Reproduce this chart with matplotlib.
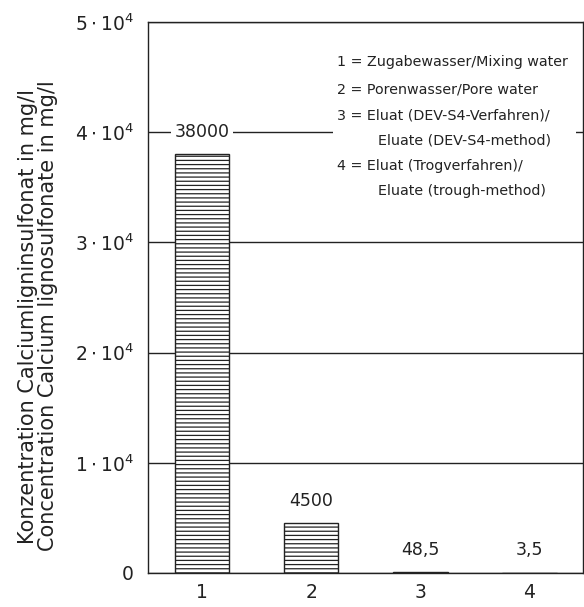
import matplotlib.pyplot as plt
from matplotlib.patches import Rectangle

plt.rcParams['font.family'] = ['DejaVu Sans']
plt.rcParams['mathtext.fontset'] = 'dejavusans'
plt.rcParams['hatch.linewidth'] = 0.9

# Messwerte Calciumligninsulfonat
proben = [1, 2, 3, 4]
werte = [38000, 4500, 48.5, 3.5]
wert_texte = ['38000', '4500', '48,5', '3,5']
y_ticks = [0, 10000, 20000, 30000, 40000, 50000]
y_tick_texte = ['0', r'$1\cdot10^4$', r'$2\cdot10^4$', r'$3\cdot10^4$', r'$4\cdot10^4$', r'$5\cdot10^4$']
legende = ['1 = Zugabewasser/Mixing water',
           '2 = Porenwasser/Pore water',
           '3 = Eluat (DEV-S4-Verfahren)/',
           'Eluate (DEV-S4-method)',
           '4 = Eluat (Trogverfahren)/',
           'Eluate (trough-method)']
einzug = [False, False, False, True, False, True]

fig = plt.figure(figsize=(5.84, 6.07), dpi=100)
ax = fig.add_axes([148 / 584, 1 - 573 / 607, (583 - 148) / 584, (573 - 22) / 607])

ax.bar(proben, werte, width=0.5, color='white', edgecolor='#222222',
       hatch='----', linewidth=1.0, zorder=2)

# Wertangaben über den Säulen
for x, w, t in zip(proben, werte, wert_texte):
    y = 40000 if x == 1 else w + 2050
    ax.text(x, y, t, ha='center', va='center', fontsize=12.5, color='#222222',
            bbox=dict(facecolor='white', edgecolor='none', pad=2.5), zorder=4)

# Legende als Textblock auf weißem Grund
ax.add_patch(Rectangle((0.425, 0.62), 0.56, 0.3, transform=ax.transAxes,
                       facecolor='white', edgecolor='none', zorder=3))
leg_y = [46370, 43920, 41560, 39290, 36930, 34660]
for y, t, e in zip(leg_y, legende, einzug):
    ax.text(0.529 if e else 0.434, y, t, transform=ax.get_yaxis_transform(),
            fontsize=10.3, color='#222222', va='center', ha='left', zorder=4)

ax.set_xlim(0.505, 4.49)
ax.set_ylim(0, 50000)
ax.set_xticks(proben)
ax.set_xticklabels([str(p) for p in proben], fontsize=13.5)
ax.set_yticks(y_ticks)
ax.set_yticklabels(y_tick_texte, fontsize=13.5)
ax.tick_params(length=0, colors='#222222')
ax.tick_params(axis='x', pad=7)
ax.tick_params(axis='y', pad=10)
ax.yaxis.grid(True, color='#222222', linewidth=1.0)
ax.set_axisbelow(True)
for s in ax.spines.values():
    s.set_color('#222222')
    s.set_linewidth(1.0)

fig.text(38 / 584, 1 - 316 / 607,
         'Konzentration Calciumligninsulfonat in mg/l\n'
         'Concentration Calcium lignosulfonate in mg/l',
         rotation=90, ha='center', va='center', multialignment='center',
         fontsize=15, color='#222222', linespacing=1.05)

fig.savefig('out.png', dpi=100)
